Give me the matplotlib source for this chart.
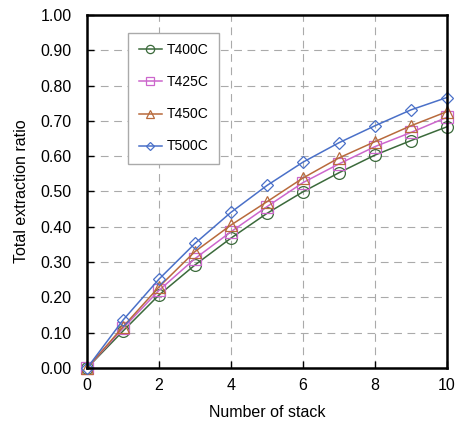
import matplotlib
matplotlib.use("Agg")
from matplotlib import pyplot as plt

plt.rcParams['font.family'] = ['Liberation Sans', 'DejaVu Sans']

stack = [0, 1, 2, 3, 4, 5, 6, 7, 8, 9, 10]
t400 = [0.0, 0.105, 0.207, 0.292, 0.368, 0.438, 0.499, 0.553, 0.603, 0.644, 0.683]
t425 = [0.0, 0.113, 0.220, 0.310, 0.386, 0.457, 0.525, 0.578, 0.627, 0.667, 0.710]
t450 = [0.0, 0.117, 0.230, 0.330, 0.405, 0.471, 0.538, 0.595, 0.641, 0.686, 0.726]
t500 = [0.0, 0.136, 0.252, 0.353, 0.441, 0.517, 0.583, 0.638, 0.686, 0.731, 0.766]

series = [
    ("T400C", t400, "o", "#3b6a3b"),
    ("T425C", t425, "s", "#cc66cc"),
    ("T450C", t450, "^", "#b86a3c"),
    ("T500C", t500, "D", "#4a70c8"),
]

fig = plt.figure(figsize=(4.56, 4.25), dpi=100)
ax = fig.add_axes([0.191, 0.134, 0.789, 0.831])

for name, vals, mk, col in series:
    ms = 6.5 if mk == "D" else 8.5
    ax.plot(stack, vals, color=col, marker=mk, markersize=ms, markerfacecolor="none",
            markeredgecolor=col, markeredgewidth=0.9, linewidth=1.1, label=name, clip_on=False)

ax.set_xlim(0, 10)
ax.set_ylim(0, 1.0)
ax.set_xticks(range(0, 11, 2))
ax.set_yticks([i / 10 for i in range(11)])
ax.set_yticklabels([f"{i / 10:.2f}" for i in range(11)])
ax.grid(True, color="#aaaaaa", linestyle=(0, (7, 5)), linewidth=0.8)
ax.tick_params(direction="in", length=5, width=1, labelsize=11.5, top=False, right=False)
ax.tick_params(axis="y", pad=11)
ax.tick_params(axis="x", pad=7)
for s in ax.spines.values():
    s.set_linewidth(1.8)

ax.set_xlabel("Number of stack", fontsize=11.5, labelpad=9)
ax.set_ylabel("Total extraction ratio", fontsize=11.5, labelpad=8)

leg = ax.legend(loc="upper left", bbox_to_anchor=(0.114, 0.949), borderaxespad=0,
                fontsize=10, labelspacing=1.3, handlelength=1.7, handletextpad=0.35,
                markerscale=0.7, fancybox=False, edgecolor="#aaaaaa", framealpha=1,
                borderpad=0.75)
leg.get_frame().set_linewidth(1.0)

fig.savefig("out.png", dpi=100)
